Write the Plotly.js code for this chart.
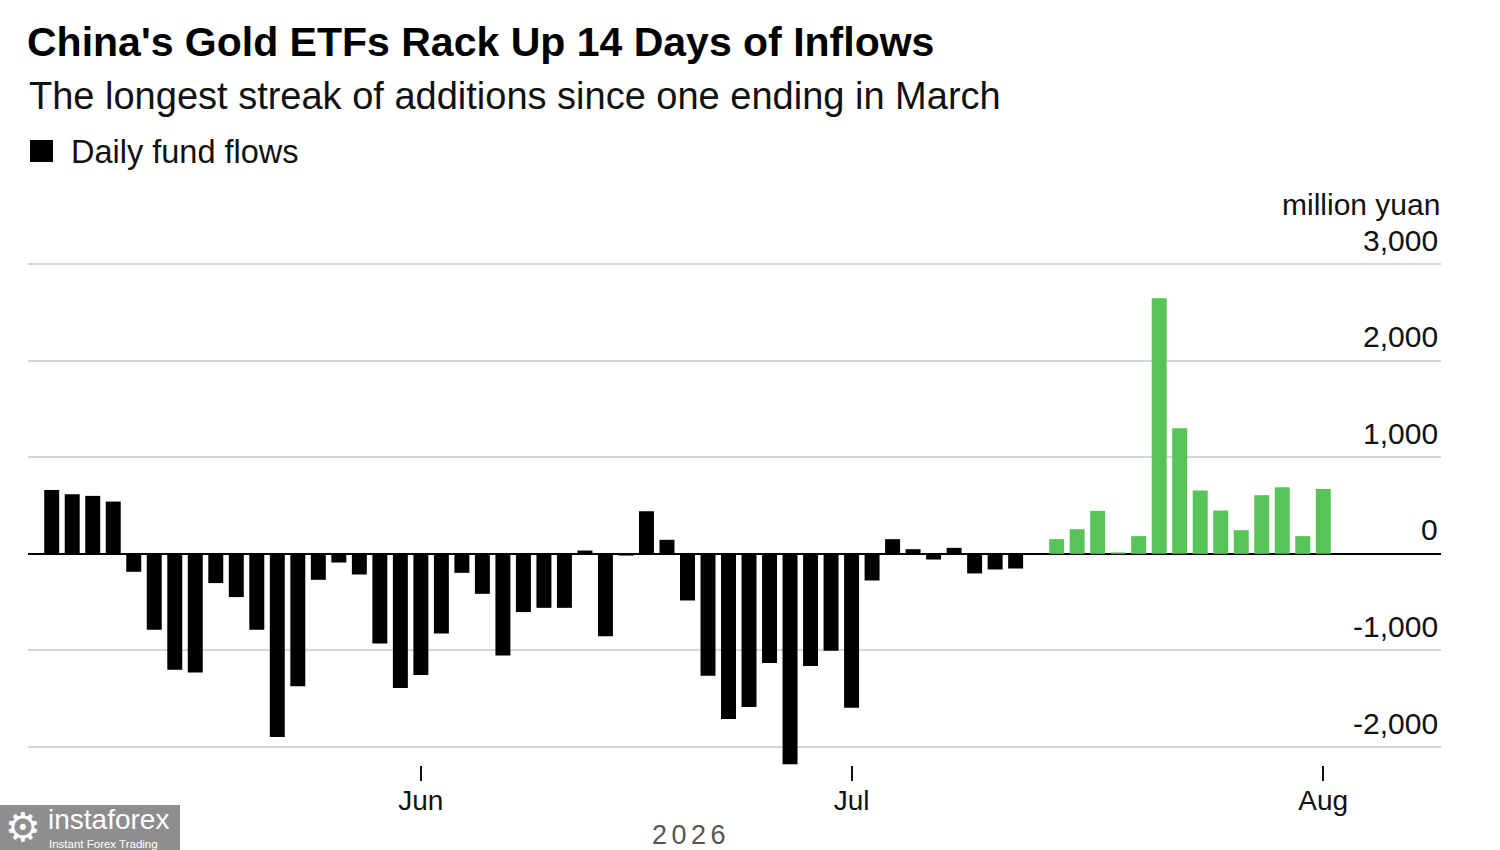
<!DOCTYPE html>
<html>
<head>
<meta charset="utf-8">
<script src="https://cdn.plot.ly/plotly-3.0.1.min.js"></script>
<style>
  html, body { margin: 0; padding: 0; background: #ffffff; }
  #chart { width: 1500px; height: 850px; }
</style>
</head>
<body>
<div id="chart"></div>
<script>
// ---- Data (trading days, million yuan) ----
const tradingDays = [
  '2026-05-06','2026-05-07','2026-05-08','2026-05-11','2026-05-12','2026-05-13','2026-05-14','2026-05-15',
  '2026-05-18','2026-05-19','2026-05-20','2026-05-21','2026-05-22','2026-05-25','2026-05-26','2026-05-27',
  '2026-05-28','2026-05-29',
  '2026-06-01','2026-06-02','2026-06-03','2026-06-04','2026-06-05','2026-06-08','2026-06-09','2026-06-10',
  '2026-06-11','2026-06-12','2026-06-15','2026-06-16','2026-06-17','2026-06-18','2026-06-22','2026-06-23',
  '2026-06-24','2026-06-25','2026-06-26','2026-06-29','2026-06-30',
  '2026-07-01','2026-07-02','2026-07-03','2026-07-06','2026-07-07','2026-07-08','2026-07-09','2026-07-10',
  '2026-07-13','2026-07-14','2026-07-15','2026-07-16','2026-07-17','2026-07-20','2026-07-21','2026-07-22',
  '2026-07-23','2026-07-24','2026-07-27','2026-07-28','2026-07-29','2026-07-30','2026-07-31',
  '2026-08-03'
];
const dailyFlows = [
  662, 617, 600, 541, -186, -786, -1200, -1228,
  -303, -448, -786, -1897, -1372, -269, -90, -214,
  -928, -1390,
  -1255, -824, -197, -414, -1052, -603, -559, -559,
  34, -852, -18, 441, 145, -483, -1262, -1710,
  -1586, -1131, -2179, -1162, -1003,
  -1593, -276, 152, 48, -59, 62, -203, -162,
  -152, 0, 152, 255, 445, 15, 183, 2645,
  1300, 655, 448, 245, 607, 690, 183,
  672
];
const streakStart = '2026-07-15';
const monthTickDays = ['2026-06-01', '2026-07-01', '2026-08-03'];
const monthTickLabels = ['Jun', 'Jul', 'Aug'];
const yTickValues = [-2000, -1000, 0, 1000, 2000, 3000];
const yTickLabels = ['-2,000', '-1,000', '0', '1,000', '2,000', '3,000'];
const yearLabel = '2026';
const unitLabel = 'million yuan';
const seriesName = 'Daily fund flows';

// ---- Styling / layout helpers ----
const FONT = 'Liberation Sans, Arial, Helvetica, sans-serif';
const BLACK = '#000000';
const GREEN = '#56c456';
const FIG_W = 1500, FIG_H = 850;
const PL = 28, PR = 1441, PT = 259, PB = 765;   // plot area in px
const PW = PR - PL, PH = PB - PT;
const px2x = px => (px - PL) / PW;
const px2y = py => (PB - py) / PH;

const barColors = tradingDays.map(d => d >= streakStart ? GREEN : BLACK);

const trace = {
  type: 'bar',
  x: tradingDays,
  y: dailyFlows,
  name: seriesName,
  marker: { color: barColors, line: { width: 0 } },
  showlegend: false,
  hoverinfo: 'x+y'
};

const annotations = [];
// y tick labels (above grid lines, right aligned)
yTickValues.forEach((v, i) => {
  annotations.push({
    xref: 'paper', yref: 'y', x: 1, y: v,
    xanchor: 'right', yanchor: 'middle',
    xshift: -1, yshift: 24,
    text: yTickLabels[i], showarrow: false,
    font: { family: FONT, size: 30, color: '#111111' }
  });
});
// unit label
annotations.push({
  xref: 'paper', yref: 'paper', x: 1, y: px2y(205),
  xanchor: 'right', yanchor: 'middle', xshift: 1,
  text: unitLabel, showarrow: false,
  font: { family: FONT, size: 30, color: '#111111' }
});
// subtitle
annotations.push({
  xref: 'paper', yref: 'paper', x: px2x(27), y: px2y(96),
  xanchor: 'left', yanchor: 'middle',
  text: 'The longest streak of additions since one ending in March', showarrow: false,
  font: { family: FONT, size: 38, color: '#111111' }
});
// legend text
annotations.push({
  xref: 'paper', yref: 'paper', x: px2x(69), y: px2y(152),
  xanchor: 'left', yanchor: 'middle',
  text: seriesName, showarrow: false,
  font: { family: FONT, size: 32.5, color: '#111111' }
});
// year label under axis
annotations.push({
  xref: 'paper', yref: 'paper', x: px2x(691), y: px2y(835),
  xanchor: 'center', yanchor: 'middle',
  text: '<span style="letter-spacing:4.5px">' + yearLabel + '</span>', showarrow: false,
  font: { family: FONT, size: 27, color: '#555555' }
});
// watermark texts
annotations.push({
  xref: 'paper', yref: 'paper', x: px2x(23), y: px2y(827),
  xanchor: 'center', yanchor: 'middle',
  text: '\u2699', showarrow: false,
  font: { family: 'DejaVu Sans', size: 40, color: '#ffffff' }
});
annotations.push({
  xref: 'paper', yref: 'paper', x: px2x(46), y: px2y(819),
  xanchor: 'left', yanchor: 'middle',
  text: 'instaforex', showarrow: false,
  font: { family: FONT, size: 28, color: '#ffffff' }
});
annotations.push({
  xref: 'paper', yref: 'paper', x: px2x(47), y: px2y(844),
  xanchor: 'left', yanchor: 'middle',
  text: 'Instant Forex Trading', showarrow: false,
  font: { family: FONT, size: 11.5, color: '#ffffff' }
});

const shapes = [
  // legend swatch
  {
    type: 'rect', xref: 'paper', yref: 'paper',
    x0: px2x(30), x1: px2x(53), y0: px2y(162), y1: px2y(140),
    fillcolor: BLACK, line: { width: 0 }
  },
  // watermark box
  {
    type: 'rect', xref: 'paper', yref: 'paper',
    x0: px2x(0), x1: px2x(180), y0: px2y(850), y1: px2y(805),
    fillcolor: '#8e8e8e', line: { width: 0 }, layer: 'above'
  }
];

const layout = {
  width: FIG_W, height: FIG_H,
  margin: { l: PL, r: FIG_W - PR, t: PT, b: FIG_H - PB, pad: 0 },
  paper_bgcolor: '#ffffff', plot_bgcolor: '#ffffff',
  font: { family: FONT, color: '#111111' },
  title: {
    text: "<b>China's Gold ETFs Rack Up 14 Days of Inflows</b>",
    xref: 'container', yref: 'container',
    x: 27 / FIG_W, xanchor: 'left',
    y: 1 - 42 / FIG_H, yanchor: 'middle',
    font: { family: FONT, size: 41, color: '#000000' }
  },
  bargap: 0.27,
  showlegend: false,
  xaxis: {
    type: 'category',
    range: [-1.156, 67.74],
    tickmode: 'array',
    tickvals: monthTickDays,
    ticktext: monthTickLabels,
    ticks: 'outside', ticklen: 15, tickwidth: 2, tickcolor: '#111111',
    ticklabelstandoff: -5,
    tickfont: { family: FONT, size: 28, color: '#111111' },
    showgrid: false, showline: false, zeroline: false,
    fixedrange: true
  },
  yaxis: {
    side: 'right',
    range: [-2186, 3052],
    tickmode: 'array',
    tickvals: yTickValues,
    ticktext: yTickLabels,
    showticklabels: false,
    ticks: '',
    showgrid: true, gridcolor: '#d6d6d6', gridwidth: 2,
    zeroline: true, zerolinecolor: '#000000', zerolinewidth: 2,
    showline: false,
    fixedrange: true
  },
  annotations: annotations,
  shapes: shapes
};

Plotly.newPlot('chart', [trace], layout, { staticPlot: true, displayModeBar: false });
</script>
</body>
</html>
